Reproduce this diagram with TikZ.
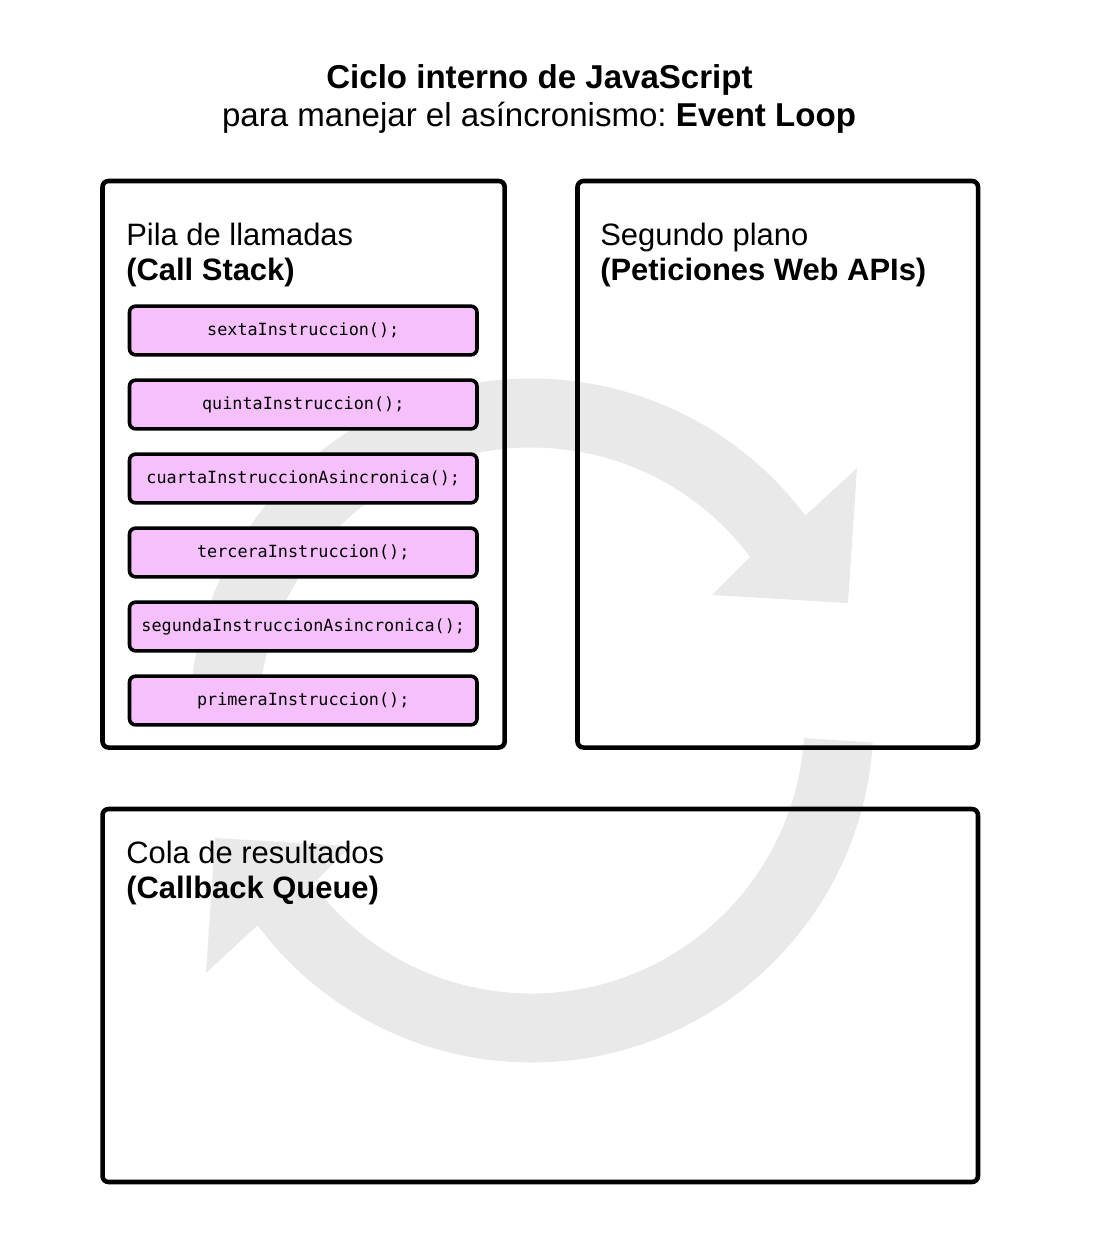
\documentclass[tikz,border=0pt]{standalone}
\usepackage{fontspec}
\setmainfont{Liberation Sans}
\newfontfamily\monofont{DejaVu Sans Mono}
\definecolor{ringc}{RGB}{233,233,233}
\definecolor{pinkc}{RGB}{245,192,251}
\frenchspacing
\tikzset{
  outerbox/.style={draw=black, line width=3.4pt, rounded corners=4.5pt, inner sep=0pt},
  stackbox/.style={draw=black, fill=pinkc, line width=2.7pt, rounded corners=4.5pt, inner sep=0pt,
    minimum width=260.6pt, minimum height=36.5pt, font=\monofont\fontsize{12.6}{14}\selectfont},
  heading/.style={anchor=base west, inner sep=0pt, font=\fontsize{23.2}{27}\selectfont},
  titletext/.style={anchor=base, inner sep=0pt, font=\fontsize{24.8}{29}\selectfont},
  ringarrow/.pic={
    \fill[ringc] (176.3:342) arc[start angle=176.3, end angle=36.8, radius=342]
      -- (325.5,252.5) -- (316.5,117.5) -- (180.5,125.5)
      -- (36.8:273) arc[start angle=36.8, end angle=176.3, radius=273] -- cycle;
  }
}
\begin{document}
\begin{tikzpicture}[x=0.75pt,y=0.75pt]
\fill[white] (0,0) rectangle (1112,-1258);
\useasboundingbox (0,0) rectangle (1112,-1258);
% event loop ring (two curved arrows)
\begin{scope}[shift={(531.5,-720.5)}]
  \pic {ringarrow};
  \pic[rotate=180] {ringarrow};
\end{scope}
% title
\node[titletext] (t1) at (539.5,-88) {\textbf{Ciclo interno de JavaScript}};
\node[titletext] (t2) at (539,-126) {para manejar el asíncronismo: \textbf{Event Loop}};
% outer boxes
\node[outerbox, minimum width=301.65pt, minimum height=424.9pt] (stack) at (303.6,-464.25) {};
\node[outerbox, minimum width=300.4pt, minimum height=424.9pt] (webapi) at (777.75,-464.25) {};
\node[outerbox, minimum width=656.6pt, minimum height=279.75pt] (queue) at (540.25,-995.5) {};
% headings
\node[heading] (h1a) at (126,-245) {Pila de llamadas};
\node[heading] (h1b) at (126,-280) {\textbf{(Call Stack)}};
\node[heading] (h2a) at (600,-245) {Segundo plano};
\node[heading] (h2b) at (600,-280) {\textbf{(Peticiones Web APIs)}};
\node[heading] (h3a) at (126,-863) {Cola de resultados};
\node[heading] (h3b) at (126,-898) {\textbf{(Callback Queue)}};
% stack entries
\node[stackbox] (s6) at (303.25,-330.5) {sextaInstruccion();};
\node[stackbox] (s5) at (303.25,-404.5) {quintaInstruccion();};
\node[stackbox] (s4) at (303.25,-478.5) {cuartaInstruccionAsincronica();};
\node[stackbox] (s3) at (303.25,-552.5) {terceraInstruccion();};
\node[stackbox] (s2) at (303.25,-626.5) {segundaInstruccionAsincronica();};
\node[stackbox] (s1) at (303.25,-700.5) {primeraInstruccion();};
\end{tikzpicture}
\end{document}
